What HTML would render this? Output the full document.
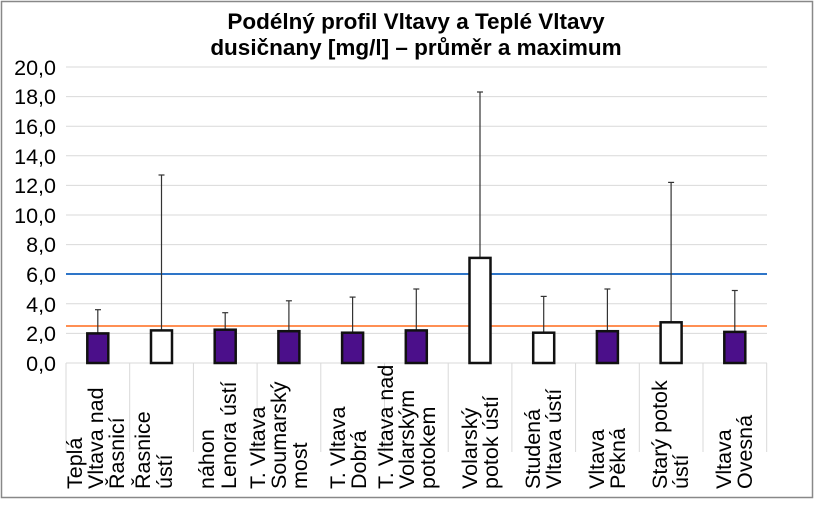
<!DOCTYPE html>
<html><head><meta charset="utf-8"><style>html,body{margin:0;padding:0;background:#fff}</style></head>
<body>
<svg width="815" height="500" xmlns="http://www.w3.org/2000/svg" font-family="Liberation Sans, Arial, sans-serif">
<rect x="1.5" y="1.5" width="811" height="496" fill="#fff" stroke="#888" stroke-width="1.5"/>
<text x="416" y="29" text-anchor="middle" font-size="22.5" font-weight="bold">Podélný profil Vltavy a Teplé Vltavy</text>
<text x="416" y="55" text-anchor="middle" font-size="22.5" font-weight="bold">dusičnany [mg/l] – průměr a maximum</text>
<g stroke="#d9d9d9" stroke-width="1">
<line x1="66" x2="767" y1="67" y2="67"/><line x1="66" x2="767" y1="96.6" y2="96.6"/><line x1="66" x2="767" y1="126.2" y2="126.2"/><line x1="66" x2="767" y1="155.8" y2="155.8"/><line x1="66" x2="767" y1="185.4" y2="185.4"/><line x1="66" x2="767" y1="215" y2="215"/><line x1="66" x2="767" y1="244.6" y2="244.6"/><line x1="66" x2="767" y1="274.2" y2="274.2"/><line x1="66" x2="767" y1="303.8" y2="303.8"/><line x1="66" x2="767" y1="333.4" y2="333.4"/><line x1="66" x2="767" y1="363" y2="363"/>
<line x1="66" x2="66" y1="363" y2="452"/><line x1="129.7" x2="129.7" y1="363" y2="452"/><line x1="193.4" x2="193.4" y1="363" y2="452"/><line x1="257.1" x2="257.1" y1="363" y2="452"/><line x1="320.8" x2="320.8" y1="363" y2="452"/><line x1="384.5" x2="384.5" y1="363" y2="452"/><line x1="448.2" x2="448.2" y1="363" y2="452"/><line x1="511.9" x2="511.9" y1="363" y2="452"/><line x1="575.6" x2="575.6" y1="363" y2="452"/><line x1="639.3" x2="639.3" y1="363" y2="452"/><line x1="703" x2="703" y1="363" y2="452"/><line x1="766.7" x2="766.7" y1="363" y2="452"/>
</g>
<g font-size="21.5" text-anchor="end">
<text x="56" y="75">20,0</text><text x="56" y="104">18,0</text><text x="56" y="134">16,0</text><text x="56" y="164">14,0</text><text x="56" y="193">12,0</text><text x="56" y="223">10,0</text><text x="56" y="252">8,0</text><text x="56" y="282">6,0</text><text x="56" y="312">4,0</text><text x="56" y="341">2,0</text><text x="56" y="371">0,0</text>
</g>
<line x1="66" x2="767" y1="274" y2="274" stroke="#2e75c8" stroke-width="2"/>
<line x1="66" x2="767" y1="326" y2="326" stroke="#ff6a1a" stroke-width="1.5"/>
<g stroke="#333" stroke-width="1.2">
<line x1="97.8" x2="97.8" y1="309.7" y2="333"/><line x1="95" x2="101" y1="309.7" y2="309.7"/>
<line x1="161.5" x2="161.5" y1="175" y2="330"/><line x1="158.5" x2="164.5" y1="175" y2="175"/>
<line x1="225.2" x2="225.2" y1="312.7" y2="330"/><line x1="222.2" x2="228.2" y1="312.7" y2="312.7"/>
<line x1="288.9" x2="288.9" y1="300.8" y2="331"/><line x1="285.9" x2="291.9" y1="300.8" y2="300.8"/>
<line x1="352.6" x2="352.6" y1="297.1" y2="332"/><line x1="349.6" x2="355.6" y1="297.1" y2="297.1"/>
<line x1="416.3" x2="416.3" y1="289" y2="330"/><line x1="413.3" x2="419.3" y1="289" y2="289"/>
<line x1="480" x2="480" y1="92" y2="258"/><line x1="477" x2="483" y1="92" y2="92"/>
<line x1="543.7" x2="543.7" y1="296.4" y2="332"/><line x1="540.7" x2="546.7" y1="296.4" y2="296.4"/>
<line x1="607.4" x2="607.4" y1="289" y2="331"/><line x1="604.4" x2="610.4" y1="289" y2="289"/>
<line x1="671.1" x2="671.1" y1="182.4" y2="322"/><line x1="668.1" x2="674.1" y1="182.4" y2="182.4"/>
<line x1="734.8" x2="734.8" y1="290.5" y2="332"/><line x1="731.8" x2="737.8" y1="290.5" y2="290.5"/>
</g>
<g stroke="#111" stroke-width="2.5">
<rect x="87.3" y="333.4" width="21" height="29.6" fill="#4b0f8a"/>
<rect x="151" y="330.4" width="21" height="32.6" fill="#fff"/>
<rect x="214.7" y="329.7" width="21" height="33.3" fill="#4b0f8a"/>
<rect x="278.4" y="331.2" width="21" height="31.8" fill="#4b0f8a"/>
<rect x="342.1" y="332.7" width="21" height="30.3" fill="#4b0f8a"/>
<rect x="405.8" y="330.4" width="21" height="32.6" fill="#4b0f8a"/>
<rect x="469.5" y="257.9" width="21" height="105.1" fill="#fff"/>
<rect x="533.2" y="332.7" width="21" height="30.3" fill="#fff"/>
<rect x="596.9" y="331.2" width="21" height="31.8" fill="#4b0f8a"/>
<rect x="660.6" y="322.3" width="21" height="40.7" fill="#fff"/>
<rect x="724.3" y="331.9" width="21" height="31.1" fill="#4b0f8a"/>
</g>
<g font-size="21.5">
<text transform="translate(82,489) rotate(-90)">Teplá</text>
<text transform="translate(103,489) rotate(-90)">Vltava nad</text>
<text transform="translate(124,489) rotate(-90)">Řasnicí</text>
<text transform="translate(150,489) rotate(-90)">Řasnice</text>
<text transform="translate(172,489) rotate(-90)">ústí</text>
<text transform="translate(214,489) rotate(-90)">náhon</text>
<text transform="translate(236,489) rotate(-90)">Lenora ústí</text>
<text transform="translate(265,489) rotate(-90)">T. Vltava</text>
<text transform="translate(286,489) rotate(-90)">Soumarský</text>
<text transform="translate(307,489) rotate(-90)">most</text>
<text transform="translate(345,489) rotate(-90)">T. Vltava</text>
<text transform="translate(366,489) rotate(-90)">Dobrá</text>
<text transform="translate(393,489) rotate(-90)">T. Vltava nad</text>
<text transform="translate(414,489) rotate(-90)">Volarským</text>
<text transform="translate(435,489) rotate(-90)">potokem</text>
<text transform="translate(477,489) rotate(-90)">Volarský</text>
<text transform="translate(498,489) rotate(-90)">potok ústí</text>
<text transform="translate(540,489) rotate(-90)">Studená</text>
<text transform="translate(561,489) rotate(-90)">Vltava ústí</text>
<text transform="translate(604,489) rotate(-90)">Vltava</text>
<text transform="translate(625,489) rotate(-90)">Pěkná</text>
<text transform="translate(667,489) rotate(-90)">Starý potok</text>
<text transform="translate(688,489) rotate(-90)">ústí</text>
<text transform="translate(731,489) rotate(-90)">Vltava</text>
<text transform="translate(752,489) rotate(-90)">Ovesná</text>
</g>
</svg>
</body></html>
